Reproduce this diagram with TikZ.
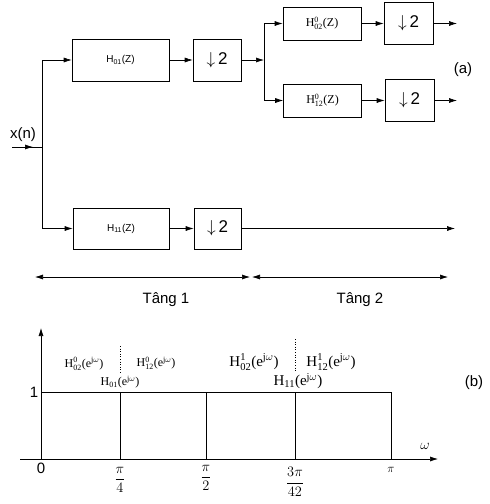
\documentclass[tikz,border=0pt]{standalone}
\usepackage{fontspec}
\setsansfont{Liberation Sans}
\setmainfont{Liberation Serif}
\usepackage{amsmath}
\usetikzlibrary{arrows.meta}

\begin{document}
\begin{tikzpicture}[x=1pt,y=-1pt,line width=0.6pt,
  block/.style={draw,minimum height=42pt,inner sep=0pt,font=\sffamily\fontsize{10}{10}\selectfont},
  sblock/.style={draw,minimum width=78pt,minimum height=33pt,inner sep=0pt,font=\fontsize{12}{12}\selectfont},
  down/.style={draw,minimum width=48pt,minimum height=42pt,inner sep=0pt,font=\sffamily\fontsize{17}{17}\selectfont},
  arr/.style={-{Latex[length=8pt,width=5pt]}},
  dbl/.style={{Latex[length=8pt,width=5pt]}-{Latex[length=8pt,width=5pt]}},
  lbl/.style={font=\sffamily\fontsize{15}{15}\selectfont,inner sep=1pt},
  small/.style={font=\fontsize{12}{12}\selectfont,inner sep=0pt},
  big/.style={font=\fontsize{15}{15}\selectfont,inner sep=0pt}]
\useasboundingbox (0,0) rectangle (490,504);
\node[block,minimum width=97pt] (h01) at (120.5,60) {H\textsubscript{01}(Z)};
\node[down] (d01) at (217,60) {$\downarrow$\,2};
\node[sblock] (h02) at (322,23.5) {H$^{\text{0}}_{\text{02}}$(Z)};
\node[down,minimum width=49pt] (d02) at (408.5,23.5) {$\downarrow$\,2};
\node[sblock] (h12) at (322.5,100.5) {H$^{\text{0}}_{\text{12}}$(Z)};
\node[down,minimum width=49pt] (d12) at (409.5,100.5) {$\downarrow$\,2};
\node[block,minimum width=96pt,minimum height=41pt] (h11) at (121,228.5) {H\textsubscript{11}(Z)};
\node[down,minimum width=47pt,minimum height=41pt] (d11) at (217.5,228.5) {$\downarrow$\,2};
\coordinate (in) at (12,147);
\coordinate (j1) at (42,147);
\coordinate (j2) at (264,60);
\coordinate (o02) at (457,23.5);
\coordinate (o12) at (457,100.5);
\coordinate (o11) at (455,228.5);
\node[lbl] (xn) at (23,135) {x(n)};
\node[lbl] (la) at (463,70) {(a)};
\draw[arr] (in) -- ++(21,0);
\draw (in) -- (j1);
\draw[arr] (j1) |- (h01);
\draw[arr] (j1) |- (h11);
\draw[arr] (h01) -- (d01);
\draw[arr] (d01) -- (j2);
\draw[arr] (j2) |- (h02);
\draw[arr] (j2) |- (h12);
\draw[arr] (h02) -- (d02);
\draw[arr] (h12) -- (d12);
\draw[arr] (d02) -- (o02);
\draw[arr] (d12) -- (o12);
\draw[arr] (h11) -- (d11);
\draw[arr] (d11) -- (o11);
\coordinate (s1) at (35,277);
\coordinate (s2) at (250,277);
\coordinate (s3) at (252,277);
\coordinate (s4) at (448,277);
\draw[dbl] (s1) -- (s2);
\draw[dbl] (s3) -- (s4);
\node[lbl] (t1) at (166,300) {Tâng 1};
\node[lbl] (t2) at (360,300) {Tâng 2};
\coordinate (o) at (41,459);
\coordinate (xs) at (20,459);
\coordinate (xe) at (438,459);
\coordinate (ye) at (41,328);
\draw[arr] (xs) -- (xe);
\draw[arr] (o) -- (ye);
\foreach \n/\x in {a/120,b/206,c/295,d/391}{
  \coordinate (t\n) at (\x,459);
  \coordinate (u\n) at (\x,392);
  \draw (u\n) -- (t\n);
}
\coordinate (u0) at (41,392);
\draw (u0) -- (ud);
\draw[dotted] (120,346) -- (120,373);
\draw[dotted] (295,339) -- (295,372);
\node[small] (g02) at (84,364) {H$^{\text{0}}_{\text{02}}$(e$^{\text{j}\omega}$)};
\node[small] (g12) at (156,363) {H$^{\text{0}}_{\text{12}}$(e$^{\text{j}\omega}$)};
\node[small] (g01) at (120,382) {H$_{\text{01}}$(e$^{\text{j}\omega}$)};
\node[big] (k02) at (254,362) {H$^{\text{1}}_{\text{02}}$(e$^{\text{j}\omega}$)};
\node[big] (k12) at (331,362) {H$^{\text{1}}_{\text{12}}$(e$^{\text{j}\omega}$)};
\node[big] (k11) at (298,381) {H$_{\text{11}}$(e$^{\text{j}\omega}$)};
\node[lbl,font=\sffamily\fontsize{15}{15}\selectfont] (one) at (34,392) {1};
\node[lbl,font=\sffamily\fontsize{15}{15}\selectfont] (zero) at (41,468) {0};
\node[lbl] (lb) at (474,383) {(b)};
\node[big] (w) at (425,446) {$\omega$};
\node[big] (fa) at (120,480) {$\dfrac{\pi}{4}$};
\node[big] (fb) at (206,478) {$\dfrac{\pi}{2}$};
\node[big] (fc) at (295,482) {$\dfrac{3\pi}{42}$};
\node[small] (fd) at (391,470) {$\pi$};
\end{tikzpicture}
\end{document}
